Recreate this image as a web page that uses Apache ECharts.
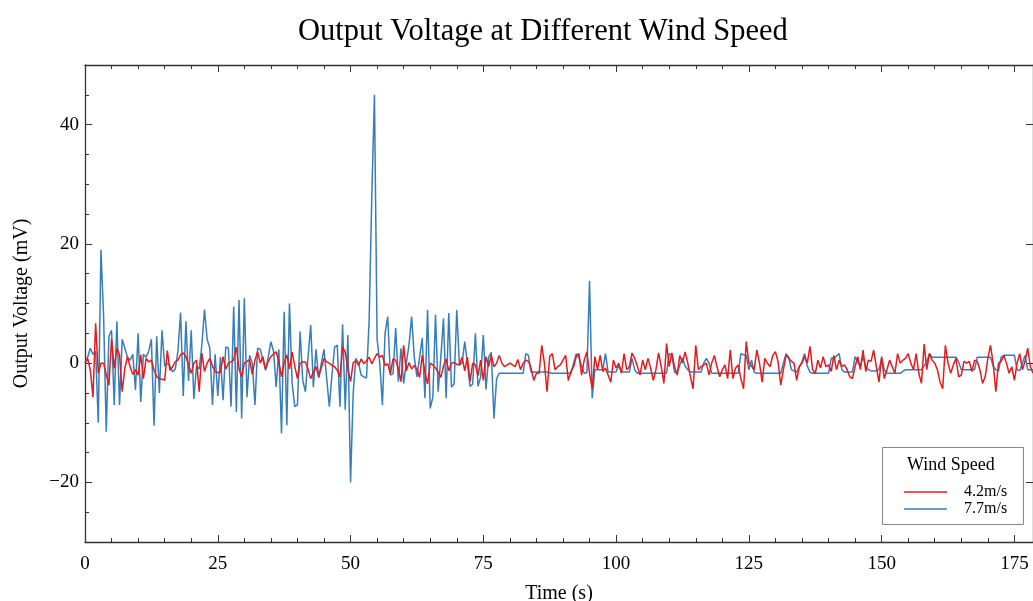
<!DOCTYPE html>
<html><head><meta charset="utf-8">
<script src="https://cdn.jsdelivr.net/npm/echarts@6/dist/echarts.min.js"></script>
<style>html,body{margin:0;padding:0;background:#fff}#c{width:1033px;height:601px}</style>
</head><body><div id="c"></div>
<script>
// sampling step of the recorded signal (seconds)
const sampleStep = 0.5;

// Output voltage (mV) at 4.2 m/s, one value per 0.5 s starting at t = 0
const voltage42 = [
  0, 0.8, -1.2, -5.7, 6.7, -1.7, 0, 0, -1.9, -3.7,
  4.1, -0.9, 2.5, 1.4, -4.8, -0.9, 1.1, -0.6, -1.9, -1.1,
  -2, 1.4, -2.6, 0.8, 0.2, 0.5, -1.2, -2.3, -2.6, -2.7,
  -2.9, 2.1, -1.2, -0.6, 0.2, 0.5, 1.4, 1.7, 1.1, -0.3,
  -1.7, 0, 0.5, -4.8, 1.7, -1.4, 0, 0.8, -0.5, -1.4,
  -1.6, -1.5, 1.1, -1, 0, 0.2, 0.5, 2.7, -1, -2.3,
  0, 0.3, 0.6, -1.9, 0.5, 1.9, 0, 1.1, -1, 0.3,
  1.1, 1.5, 1.9, 0.2, -2.3, 0, 1.4, -1, 1.9, -0.5,
  -2.6, 0, 0.2, 0.2, -1, -2.6, -1.5, -0.6, -2.3, -0.8,
  0.8, 0.2, 0, -0.4, -0.6, -1.2, -2.3, 2.7, 1.8, -1,
  -3.1, 0.1, 0.4, -0.4, 0.7, -0.1, 0.4, 1, -0.1, 0.8,
  1.6, 1, 1.3, -0.4, -0.1, -1.8, 0.7, 0.5, -1, -3.1,
  3, -1.3, 0.1, -1, -0.4, -1, -2.4, 1.3, -1.5, -3.5,
  0, -0.3, -0.8, -1.5, -2.4, -0.5, 0.7, -1.3, 0, 0.1,
  -0.2, -0.3, 1, -1.3, 1, -3.1, 0, -0.3, -2.1, 0.5,
  -2.9, 1.1, -0.6, 1.3, -0.6, 0, 1.3, 0, -0.6, -0.3,
  0, -0.3, -0.6, 0.6, -1.1, 0, 0.5, 0.3, -0.9, -2.9,
  -1.7, -1.7, 3, 0, -4.8, 1.1, 1.6, -1.1, -0.6, -0.3,
  0.5, 1.3, -2.9, -1.4, -0.6, 1.1, 1.6, -2, 0.5, 1.9,
  -1.7, -4.3, 1.1, -1.1, 1.3, -1.4, -0.8, -2, -3.2, 0.5,
  -0.8, 0, -1.7, 1.6, -1.1, -0.6, 1.7, 0.8, -0.5, -2,
  0.5, -1.1, 0.8, -0.8, -2.9, -1.1, 1.7, -0.6, -3.4, 3.3,
  -0.6, 1.7, -0.6, -2, 1.3, 0, 1.9, 0, -2.3, -4.3,
  3, -1.1, -0.6, -0.3, 0, -2, 0, 1.3, -0.6, -2.3,
  -1.1, -0.3, -2.6, 2.2, -2.6, -0.8, -0.3, -2.6, -4.3, 3.6,
  0, -0.5, -1.1, 2.2, 0, -3.2, 0.8, 0, -0.6, 1.3,
  1.9, 0.2, -3.7, -1.1, 1.3, 0.8, 0.3, 0, -2.9, -0.6,
  0, 1.1, 0, 2.8, -1.1, -1.7, 0.5, -0.8, 1.1, -0.6,
  -0.3, -1.4, 1.3, -1.1, 0.5, -0.6, -0.3, -1.1, -2.3, -2.6,
  -0.6, 1.1, -1.1, 2.2, -1.4, 0.5, 0.3, 2.2, -0.6, -3.2,
  1.1, -2.6, -1.1, 0.5, -0.6, -1.7, 1.6, 0, 0.5, 0.8,
  1.6, 0, -1.1, 1.6, -1.7, -3.4, 3.2, -1.1, 1.6, 0.5,
  0, -1.1, -3.2, -4.3, 3, 0, -1.7, -0.3, 0.8, -2.3,
  -2, 0.3, 0, 0.3, -1.4, 0.5, 0.3, -1.1, -3.4, -2.3,
  0.8, 3, 0, -4.8, 0, 0.3, 1.3, 0, -1.7, -0.6,
  -2.9, 0, 1.6, -1.1, 0.3, 2.5, -0.6, -1.7
];

// Output voltage (mV) at 7.7 m/s, one value per 0.5 s starting at t = 0
const voltage77 = [
  0, 1, 2.5, 1.5, 2, -10, 19, 8, -11.5, 4.5,
  5.5, -7, 7, -7, 4, 2.5, 1, 0.5, 1.5, -4.5,
  5, -6.5, 1.5, 1, 2, 4, -10.5, 4.5, -5, 5.5,
  -0.5, 0, -0.5, -1.5, -1, 2, 8.5, -5.5, 7, -3,
  5.5, -6, -0.5, -1, 3, 9, 4, 2.5, -7, 1.5,
  -5.5, 1, -6.2, 2.7, 2.5, -7.3, 9.5, -8.2, 10.6, -9.3,
  10.9, -5.7, 1.3, 0, -7, 2.5, 2.3, 0.5, -1.2, 1,
  3.6, 2, -4, 2.3, -11.8, 8.6, -10.4, 10, -3.4, -7.3,
  -7, 5.3, -2.9, -4.8, 1, 6.4, -4, 2.3, -2.5, 0,
  2.3, -2.5, -7.3, -2, 2.7, 3, -7.3, 6.5, -7.8, 4.7,
  -20, -5, 0.8, 0, -2, -2.3, -2.5, 7.2, 28, 45,
  4, 0, -7, 5, 7.8, -2, -1.8, 5.9, -3.1, 2.5,
  -3.4, 0, 3, 7.8, 1, -2.3, 1, 4.2, -5.9, 8.9,
  -7.6, -5.7, 8.1, -4.8, 1, 7.5, -5.9, 8.4, -4, -3.5,
  8.9, -0.3, 0, 3.6, 0, -3.9, -3.5, 5, -3.9, -2.3,
  4.7, -4.4, 1, 1.8, -9.3, -2.6, -1.7, -1.7, -1.7, -1.7,
  -1.7, -1.7, -1.7, -1.7, -1.7, -1.7, 1.6, 1.3, -1.5, -1.5,
  -1.5, -1.5, -1.5, -1.5, -1.5, -1.6, -1.7, -1.7, -1.7, -1.7,
  -1.7, -1.7, -1.7, -1.7, 0, 1.6, 1, -0.5, -1.7, -1.6,
  13.8, -5.9, -1.1, -1.1, -1.1, -1.1, 1.6, -1.5, -1.5, -1.5,
  -1.5, -0.3, -1.5, -1.5, -1.5, -1.5, 0.8, -1.1, -1.7, -1.7,
  -1.7, -1.7, -1.7, -1.7, -1.7, -1.7, -1.7, -1.7, -1.7, -1.7,
  1.6, 1.3, -1.5, -1.7, -0.3, 0.9, -0.5, -1.1, -1.5, -1.5,
  -1.5, -1.5, -1.5, 0, 0.8, 0, -1.7, -1.7, -1.7, -1.7,
  -1.7, -1.7, -1.7, -1.7, -1.7, -1.7, -1.7, 1.6, 1.4, 1.3,
  -1.1, 0.5, -1.5, -1.7, -1.7, -1.7, -1.7, -1.7, -1.7, -1.7,
  -1.7, -1.7, -1.7, 0, 1.6, 1, -1.1, -1.3, -1.5, -0.6,
  0.2, 1.6, -0.5, -1.5, -1.7, -1.7, -1.7, -1.7, -1.7, -1.7,
  -1.7, 0.8, 0.8, 1.2, 1.6, -1.1, -1.5, -1.5, -1.5, -1.5,
  1.1, 0.2, -0.5, 1.1, -0.5, -1.1, -1.3, -1.3, -1.3, -1.1,
  0.8, -1.1, -1.7, -1.7, -1.7, -1.7, -1.7, -1.7, -1.4, -1.1,
  -1.1, -1.1, -1.1, -1.1, -1.1, -1.1, -0.5, 0.2, 1.6, 1,
  1, 1, 1, 1, 1, 1, 1, 1, 1, 0.2,
  -1.1, -1.1, -1.1, -1.1, -1.1, -1.1, 1, 1, 1, 1,
  1, 1, -0.5, -1.1, -1.3, 1, 1.3, 1.3, 1.3, 1.3,
  1.3, -1.1, -1.3, 0, 1.3, -1.1, -1.1, -1.1
];

const seriesNames = ['4.2m/s', '7.7m/s'];
const yMajorTicks = [-20, 0, 20, 40];

const toPairs = arr => arr.map((v, i) => [i * sampleStep, v]);

const FONT = "'Liberation Serif', 'Times New Roman', serif";
const AXIS_COLOR = '#333';
const minus = v => String(v).replace('-', '\u2212');

const baseX = {
  type: 'value', min: 0, max: 178.5, interval: 25,
  axisLine: { onZero: false, lineStyle: { color: AXIS_COLOR, width: 1.3 } },
  axisTick: { inside: true, length: 7, lineStyle: { color: AXIS_COLOR } },
  minorTick: { show: true, splitNumber: 5, length: 4, lineStyle: { color: AXIS_COLOR } },
  splitLine: { show: false }, minorSplitLine: { show: false }
};
const minorY = (pos, showTicks) => ({
  type: 'value', position: pos, min: -30, max: 50, interval: 5,
  axisLine: { show: true, onZero: false, lineStyle: { color: AXIS_COLOR, width: 1.3 } },
  axisTick: { show: showTicks, inside: true, length: 4, lineStyle: { color: AXIS_COLOR } },
  axisLabel: { show: false }, splitLine: { show: false }
});
const majorY = (pos, withLabels) => ({
  type: 'value', position: pos, min: -30, max: 50, interval: 5,
  axisLine: { show: false, onZero: false },
  axisTick: { inside: true, length: 7, customValues: yMajorTicks, lineStyle: { color: AXIS_COLOR } },
  axisLabel: withLabels ? { show: true, customValues: yMajorTicks, formatter: minus,
    fontFamily: FONT, fontSize: 19, color: '#000', margin: 6 } : { show: false },
  splitLine: { show: false },
  name: withLabels ? 'Output Voltage (mV)' : '',
  nameLocation: 'middle', nameGap: 53, nameRotate: 90,
  nameTextStyle: { fontFamily: FONT, fontSize: 20, color: '#000' }
});

const chart = echarts.init(document.getElementById('c'), null, { renderer: 'canvas' });
chart.setOption({
  animation: false,
  backgroundColor: '#fff',
  title: {
    text: 'Output Voltage at Different Wind Speed',
    left: 293, top: 11,
    textStyle: { fontFamily: FONT, fontSize: 30.5, fontWeight: 'normal', color: '#000' }
  },
  grid: { left: 85, right: 0, top: 65, bottom: 59, containLabel: false, outerBoundsMode: 'none' },
  xAxis: [
    Object.assign({}, baseX, {
      position: 'bottom',
      axisLabel: { fontFamily: FONT, fontSize: 19, color: '#000', margin: 13, showMaxLabel: false },
      name: 'Time (s)', nameLocation: 'middle', nameGap: 42,
      nameTextStyle: { fontFamily: FONT, fontSize: 20, color: '#000' }
    }),
    Object.assign({}, baseX, { position: 'top', axisLabel: { show: false } })
  ],
  yAxis: [minorY('left', true), majorY('left', true), minorY('right', false), majorY('right', false)],
  legend: {
    data: seriesNames, z: 100,
    orient: 'vertical', left: 899, top: 479,
    icon: 'rect', itemWidth: 43, itemHeight: 1.5, itemGap: 1,
    textStyle: { fontFamily: FONT, fontSize: 16, lineHeight: 14, color: '#000', padding: [0, 0, 0, 12] }
  },
  graphic: [
    { type: 'rect', left: 882, top: 447, z: 50,
      shape: { width: 141, height: 77 },
      style: { fill: '#fff', stroke: '#888', lineWidth: 1 } },
    { type: 'text', left: 907, top: 456, z: 60,
      style: { text: 'Wind Speed', fontFamily: FONT, fontSize: 18, fill: '#000' } }
  ],
  series: [
    { name: seriesNames[1], type: 'line', xAxisIndex: 0, yAxisIndex: 0,
      data: toPairs(voltage77), symbol: 'none', z: 2,
      lineStyle: { color: '#377eb8', width: 1.5 }, itemStyle: { color: '#377eb8' } },
    { name: seriesNames[0], type: 'line', xAxisIndex: 0, yAxisIndex: 0,
      data: toPairs(voltage42), symbol: 'none', z: 3,
      lineStyle: { color: '#e41a1c', width: 1.5 }, itemStyle: { color: '#e41a1c' } }
  ]
});
</script></body></html>
